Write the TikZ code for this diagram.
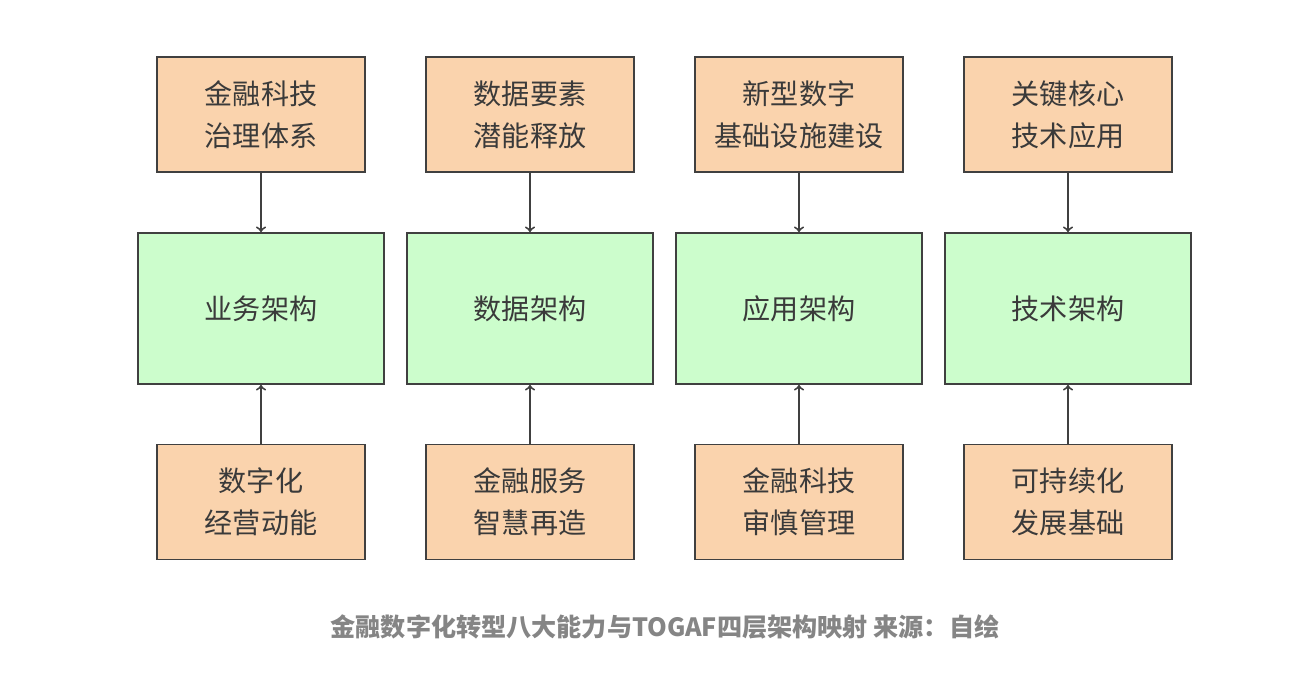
\documentclass[tikz,border=0pt]{standalone}
\usepackage{fontspec}
\newfontfamily\cjk{Noto Sans CJK SC}
\usetikzlibrary{arrows}

\definecolor{peach}{HTML}{FAD3AD}
\definecolor{mint}{HTML}{CCFDCC}
\definecolor{edge}{HTML}{404040}
\definecolor{ink}{HTML}{3A3A3A}
\definecolor{capgray}{HTML}{858585}

\tikzset{
  goal/.style={draw=edge, line width=1.1pt, fill=peach, minimum width=4.16cm, minimum height=2.3cm,
    align=center, text=ink, font=\cjk\fontsize{16}{24}\selectfont},
  layer/.style={draw=edge, line width=1.1pt, fill=mint, minimum width=4.92cm, minimum height=3.02cm,
    text=ink, font=\cjk\fontsize{16}{24}\selectfont},
  feed/.style={draw=edge, line width=1.1pt, ->, >=to}
}

\begin{document}
\begin{tikzpicture}[x=0.02cm, y=-0.02cm]
\useasboundingbox (0,0) rectangle (1292,676);

\node (g1) at (261,114.5) [goal] {金融科技\\治理体系};
\node (g2) at (530,114.5) [goal] {数据要素\\潜能释放};
\node (g3) at (799,114.5) [goal] {新型数字\\基础设施建设};
\node (g4) at (1068,114.5) [goal] {关键核心\\技术应用};

\node (l1) at (261,308.5) [layer] {业务架构};
\node (l2) at (530,308.5) [layer] {数据架构};
\node (l3) at (799,308.5) [layer] {应用架构};
\node (l4) at (1068,308.5) [layer] {技术架构};

\node (c1) at (261,502) [goal] {数字化\\经营动能};
\node (c2) at (530,502) [goal] {金融服务\\智慧再造};
\node (c3) at (799,502) [goal] {金融科技\\审慎管理};
\node (c4) at (1068,502) [goal] {可持续化\\发展基础};

\draw[feed] (g1) -- (l1);
\draw[feed] (g2) -- (l2);
\draw[feed] (g3) -- (l3);
\draw[feed] (g4) -- (l4);
\draw[feed] (c1) -- (l1);
\draw[feed] (c2) -- (l2);
\draw[feed] (c3) -- (l3);
\draw[feed] (c4) -- (l4);

\node (cap) at (665,627) [text=capgray, font=\cjk\bfseries\fontsize{14.3}{17}\selectfont] {金融数字化转型八大能力与TOGAF四层架构映射\ 来源：自绘};
\end{tikzpicture}
\end{document}
